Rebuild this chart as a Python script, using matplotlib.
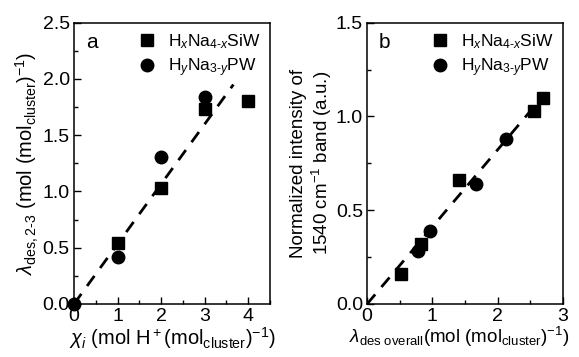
import matplotlib.pyplot as plt
from matplotlib.ticker import MultipleLocator

plt.rcParams['font.family'] = ['Liberation Sans', 'DejaVu Sans']
plt.rcParams['mathtext.fontset'] = 'custom'
plt.rcParams['mathtext.rm'] = 'Liberation Sans'
plt.rcParams['mathtext.it'] = 'Liberation Sans:italic'

# panel a
a_sq_x = [1, 2, 3, 4]
a_sq_y = [0.54, 1.03, 1.73, 1.80]
a_ci_x = [0, 1, 2, 3]
a_ci_y = [0.0, 0.42, 1.31, 1.84]
a_fit_x = [0, 3.66]
a_fit_y = [0, 1.95]

# panel b
b_sq_x = [0.52, 0.82, 1.40, 2.55, 2.70]
b_sq_y = [0.16, 0.32, 0.66, 1.03, 1.10]
b_ci_x = [0.78, 0.96, 1.67, 2.12]
b_ci_y = [0.28, 0.39, 0.64, 0.88]
b_fit_x = [0, 2.6]
b_fit_y = [0, 1.07]

lab_sq = r'H$_x$Na$_{4\text{-}x}$SiW'
lab_ci = r'H$_y$Na$_{3\text{-}y}$PW'

fig = plt.figure(figsize=(5.79, 3.57), dpi=100)
axa = fig.add_axes([0.1278, 0.1485, 0.3385, 0.788])
axb = fig.add_axes([0.634, 0.1485, 0.3385, 0.788])

def style(ax, xmaj, ymaj):
    ax.xaxis.set_major_locator(MultipleLocator(xmaj))
    ax.xaxis.set_minor_locator(MultipleLocator(xmaj / 2))
    ax.yaxis.set_major_locator(MultipleLocator(ymaj))
    ax.yaxis.set_minor_locator(MultipleLocator(ymaj / 2))
    ax.tick_params(which='both', direction='in', top=False, right=False, labelsize=14)
    ax.tick_params(axis='x', which='major', length=5, width=1, pad=3)
    ax.tick_params(axis='y', which='major', length=5, width=1, pad=3)
    ax.tick_params(which='minor', length=3, width=1)
    for s in ax.spines.values():
        s.set_linewidth(1.1)

for ax, sx, sy, cx, cy, fx, fy, tag in [
        (axa, a_sq_x, a_sq_y, a_ci_x, a_ci_y, a_fit_x, a_fit_y, 'a'),
        (axb, b_sq_x, b_sq_y, b_ci_x, b_ci_y, b_fit_x, b_fit_y, 'b')]:
    ax.plot(fx, fy, color='black', lw=2, linestyle=(0, (4.5, 3.5)), zorder=1)
    ax.plot(sx, sy, 's', color='black', ms=8.5, ls='none', label=lab_sq, clip_on=False, zorder=3)
    ax.plot(cx, cy, 'o', color='black', ms=9, ls='none', label=lab_ci, clip_on=False, zorder=3)
    ax.text(0.06, 0.965, tag, transform=ax.transAxes, fontsize=15, va='top', ha='left')
    ax.legend(loc='upper right', frameon=False, fontsize=12.5, handletextpad=0.6,
              borderaxespad=0.15, labelspacing=0.3, handlelength=1.2)

axa.set_xlim(0, 4.5)
axa.set_ylim(0, 2.5)
style(axa, 1, 0.5)
axa.set_xticks([0, 1, 2, 3, 4])
axa.set_xlabel(r'$\chi_i$ (mol H$^+$(mol$_{\mathrm{cluster}}$)$^{-1}$)', fontsize=14.5, labelpad=0)
axa.set_ylabel(r'$\lambda_{\mathrm{des,2\text{-}3}}$ (mol (mol$_{\mathrm{cluster}}$)$^{-1}$)', fontsize=14.5, labelpad=1)

axb.set_xlim(0, 3)
axb.set_ylim(0, 1.5)
style(axb, 1, 0.5)
axb.set_xlabel(r'$\lambda_{\mathrm{des\ overall}}$(mol (mol$_{\mathrm{cluster}}$)$^{-1}$)', fontsize=13.5, labelpad=0)
axb.xaxis.set_label_coords(0.47, -0.075)
axb.set_ylabel('Normalized intensity of\n1540 cm$^{-1}$ band (a.u.)', fontsize=13.5, labelpad=1)

fig.savefig('out.png', dpi=100)
